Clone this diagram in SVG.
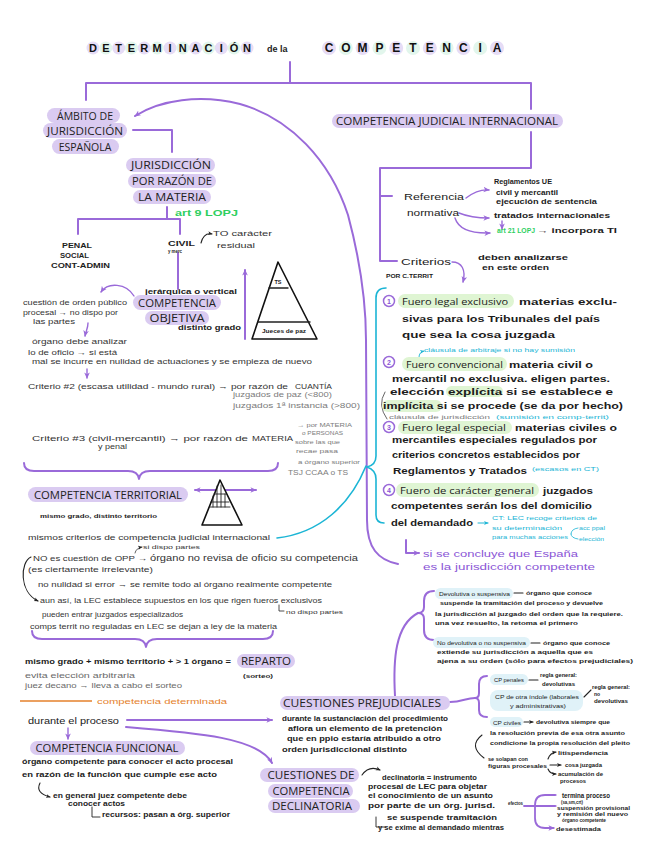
<svg xmlns="http://www.w3.org/2000/svg" width="646" height="848" viewBox="0 0 646 848">
<defs>
<style>
text{font-family:"Liberation Sans",Arial,sans-serif}
.t{font-size:7px;font-weight:700;fill:#1c1c1c}
.dg{fill:#333;font-weight:400}
.g{fill:#7b7b7b;font-weight:400}
.m{font-size:9.5px;fill:#222}
.h{font-family:"Open Sans","Liberation Sans",sans-serif;font-size:10.5px;fill:#222;text-anchor:middle}
.f{font-family:"Open Sans","Liberation Sans",sans-serif;font-size:9.5px;fill:#222}
.tt{font-size:11px;font-weight:700;fill:#111;text-anchor:middle}
.pill{fill:#dacbf1}
.gp{fill:#dff5d3}
.bp{fill:#e0f2f8}
.c1{fill:#e6dcf6}
.c2{fill:#e2f6ec}
.lp{fill:none;stroke:#9a6ad9;stroke-width:2;stroke-linecap:round;stroke-linejoin:round}
.lpt{fill:none;stroke:#9a6ad9;stroke-width:1.4;stroke-linecap:round;stroke-linejoin:round}
.lc{fill:none;stroke:#1bb5d5;stroke-width:1.6;stroke-linecap:round;stroke-linejoin:round}
.lk{fill:none;stroke:#222;stroke-width:1.1;stroke-linecap:round;stroke-linejoin:round}
.lg{fill:none;stroke:#555;stroke-width:0.9;stroke-linecap:round}
.lo{fill:none;stroke:#e5812b;stroke-width:1.4}
.cy{fill:#1bb5d5}
.pu{fill:#8a55d6}
.gr{fill:#2fcf5f}
.or{fill:#e5812b}
.num{fill:#fff;stroke:#9a6ad9;stroke-width:1.5}
.nt{font-size:7px;font-weight:700;fill:#8a55d6;text-anchor:middle}
.tri{fill:#fff;stroke:#111;stroke-width:1.6;stroke-linejoin:round}
</style>
<marker id="ap" viewBox="0 0 10 10" refX="8" refY="5" markerWidth="7" markerHeight="7" markerUnits="userSpaceOnUse" orient="auto-start-reverse"><path d="M0,1 L9,5 L0,9 L2.5,5 Z" fill="#9a6ad9"/></marker>
<marker id="ak" viewBox="0 0 10 10" refX="8" refY="5" markerWidth="5" markerHeight="5" markerUnits="userSpaceOnUse" orient="auto-start-reverse"><path d="M0,1 L9,5 L0,9 L2.5,5 Z" fill="#222"/></marker>
<marker id="ac" viewBox="0 0 10 10" refX="8" refY="5" markerWidth="5" markerHeight="5" markerUnits="userSpaceOnUse" orient="auto-start-reverse"><path d="M0,1 L9,5 L0,9 L2.5,5 Z" fill="#1bb5d5"/></marker>
<marker id="ag" viewBox="0 0 10 10" refX="8" refY="5" markerWidth="4" markerHeight="4" markerUnits="userSpaceOnUse" orient="auto-start-reverse"><path d="M0,1 L9,5 L0,9 L2.5,5 Z" fill="#777"/></marker>
</defs>
<rect width="646" height="848" fill="#fff"/>

<g id="title">
<g class="c1"><circle cx="93" cy="48" r="6.5"/><circle cx="118.7" cy="48" r="6.5"/><circle cx="144.3" cy="48" r="6.5"/><circle cx="170" cy="48" r="6.5"/><circle cx="195.6" cy="48" r="6.5"/><circle cx="221.3" cy="48" r="6.5"/><circle cx="247" cy="48" r="6.5"/><circle cx="329" cy="48" r="7"/><circle cx="362.6" cy="48" r="7"/><circle cx="396.2" cy="48" r="7"/><circle cx="429.8" cy="48" r="7"/><circle cx="463.4" cy="48" r="7"/><circle cx="497" cy="48" r="7"/></g>
<g class="c2"><circle cx="105.8" cy="48" r="6.5"/><circle cx="131.5" cy="48" r="6.5"/><circle cx="157.2" cy="48" r="6.5"/><circle cx="182.8" cy="48" r="6.5"/><circle cx="208.5" cy="48" r="6.5"/><circle cx="234.1" cy="48" r="6.5"/><circle cx="345.8" cy="48" r="7"/><circle cx="379.4" cy="48" r="7"/><circle cx="413" cy="48" r="7"/><circle cx="446.6" cy="48" r="7"/><circle cx="480.2" cy="48" r="7"/></g>
<text class="tt" x="93 105.8 118.7 131.5 144.3 157.2 170 182.8 195.6 208.5 221.3 234.1 247" y="52">DETERMINACIÓN</text>
<text class="t" x="267" y="52" style="font-size:9px">de  la</text>
<text class="tt" x="329 345.8 362.6 379.4 396.2 413 429.8 446.6 463.4 480.2 497" y="52" style="font-size:12px">COMPETENCIA</text>
</g>

<g id="connectors">
<path class="lp" d="M290 62 L290 83 M86 100 L86 83 L531 83 L531 109"/>
<path class="lp" d="M531 132 L531 168 L380 168 L380 261 L397 261 M380 196 L392 196"/>
<path class="lp" d="M133 130 L172 130 L172 152"/>
<path class="lp" d="M167 207 L167 219 M78 234 L78 219 L180 219 L180 234"/>
<path class="lp" d="M178 253 L178 289"/>
<path class="lp" d="M245 339 L245 270" marker-end="url(#ap)"/>
<path class="lpt" d="M134 296 C126 283 108 282 101 292" marker-end="url(#ap)"/>
<path class="lpt" d="M88 323 C88 328 86 331 85 336" marker-end="url(#ap)"/>
<path class="lpt" d="M87 369 L87 378" marker-end="url(#ap)"/>
<path class="lk" d="M201 243 C203 235 207 233 212 234" marker-end="url(#ak)"/>
<path class="lp" d="M135 116 C160 100 200 94 240 104 C290 118 330 160 348 215 C360 260 366 300 366 340 L367 520 C367 548 378 560 398 564" marker-start="url(#ap)"/>
<path class="lpt" d="M466 198 Q478 189 489 190" marker-end="url(#ap)"/>
<path class="lpt" d="M459 213 Q471 218 489 218" marker-end="url(#ap)"/>
<path class="lpt" d="M455 218 Q460 234 490 233" marker-end="url(#ap)"/>
<path class="lpt" d="M502 221 L502 229" marker-end="url(#ap)"/>
<path class="lpt" d="M452 262 C462 262 466 270 463 282" marker-end="url(#ap)"/>
<path class="lc" d="M386 288 Q376 288 376 298 L376 456 Q376 465 367 467 Q376 470 376 479 L376 515 Q376 523 384 523"/>
<path class="lc" d="M277 538 C320 533 350 505 366 466"/>
<path class="lc" d="M419 357 Q419 352 424 351" style="stroke-width:0.9" marker-end="url(#ac)"/>
<path class="lc" d="M478 523 L488 523" style="stroke-width:1" marker-end="url(#ac)"/>
<path class="lc" d="M571 534 Q571 529 578 528 M571 534 Q571 538 578 539" style="stroke-width:0.8"/>
<path class="lg" d="M385 392 Q377 405 387 419"/>
<path class="lp" d="M406 540 L406 553 L419 553" marker-end="url(#ap)"/>
<path class="lp" d="M24 463 Q24 471 34 471 L128 471 Q138 471 139 479 Q140 471 150 471 L268 471 Q278 471 278 463"/>
<path class="lp" d="M195 490 L256 490" marker-start="url(#ap)" marker-end="url(#ap)"/>
<path class="lk" d="M135 553 Q136 548 142 547" style="stroke-width:0.7" marker-end="url(#ak)"/>
<path class="lk" d="M31 557 C20 562 19 592 38 601" marker-end="url(#ak)"/>
<path class="lk" d="M279 605 L279 611 L284 611" style="stroke-width:0.8"/>
<path class="lp" d="M32 631 Q32 639 42 639 L135 639 Q145 639 146 647 Q147 639 157 639 L263 639 Q273 639 273 631"/>
<path class="lo" d="M20 701 L92 701"/>
<path class="lp" d="M127 720 L272 720" marker-end="url(#ap)"/>
<path class="lp" d="M126 727 C200 733 258 738 272 763" marker-end="url(#ap)"/>
<path class="lpt" d="M68 728 L68 739" marker-end="url(#ap)"/>
<path class="lk" d="M40 783 Q35 793 50 797" marker-end="url(#ak)"/>
<path class="lk" d="M92 807 L92 817 L100 817" style="stroke-width:0.9"/>
<path class="lk" d="M362 775 Q369 765 380 770" marker-end="url(#ak)"/>
<path class="lk" d="M376 817 L376 827 L385 827" style="stroke-width:0.9"/>
<path class="lp" d="M395 696 C393 660 395 625 418 613"/>
<path class="lp" d="M434 591 Q424 591 424 601 L424 607 Q424 613 418 613 Q424 613 424 619 L424 630 Q424 640 434 640"/>
<path class="lp" d="M450 702 C462 702 466 698 475 698"/>
<path class="lp" d="M487 676 Q479 676 479 684 L479 693 Q479 698 475 698 Q479 698 479 703 L479 710 Q479 717 487 717"/>
<path class="lk" d="M514 593 L523 593 M531 643 L540 643 M529 680 L538 680 M584 697 L591 690 M524 722 L533 722" marker-end="url(#ak)"/>
<path class="lk" d="M482 735 Q468 746 484 758"/>
<path class="lk" d="M548 759 Q550 753 556 752" marker-end="url(#ak)"/>
<path class="lk" d="M550 765 L561 765" marker-end="url(#ak)"/>
<path class="lk" d="M548 769 Q550 774 556 774" marker-end="url(#ak)"/>
<path class="lp" d="M524 806 L555 806 M555 795 L545 795 Q535 795 535 805 L535 818 Q535 828 545 828 L553 828" style="stroke-width:1.8"/>
<path class="lpt" d="M548 795 L556 795 M548 806 L556 806 M546 828 L554 828" marker-end="url(#ap)"/>
</g>

<g id="ambito">
<rect class="pill" x="47" y="108" width="73" height="15" rx="7.5"/>
<rect class="pill" x="43" y="123" width="84" height="15" rx="7.5"/>
<rect class="pill" x="52" y="139" width="67" height="15" rx="7.5"/>
<text class="h" x="85" y="119.5">ÁMBITO DE</text>
<text class="h" x="85" y="135" textLength="76" lengthAdjust="spacingAndGlyphs">JURISDICCIÓN</text>
<text class="h" x="85" y="151">ESPAÑOLA</text>
</g>

<g id="jurisdiccion-materia">
<rect class="pill" x="126" y="158" width="89" height="14" rx="7"/>
<rect class="pill" x="128" y="174" width="88" height="14" rx="7"/>
<rect class="pill" x="133" y="190" width="78" height="14" rx="7"/>
<text class="h" x="171" y="169" textLength="80" lengthAdjust="spacingAndGlyphs">JURISDICCIÓN</text>
<text class="h" x="172" y="185" textLength="80" lengthAdjust="spacingAndGlyphs">POR RAZÓN DE</text>
<text class="h" x="172" y="201" textLength="68" lengthAdjust="spacingAndGlyphs">LA MATERIA</text>
<text class="t gr" x="175" y="216" style="font-size:9px" textLength="63" lengthAdjust="spacingAndGlyphs">art 9 LOPJ</text>
</g>

<g id="ordenes">
<text class="t" x="62" y="248" style="font-size:6.3px" textLength="30" lengthAdjust="spacingAndGlyphs">PENAL</text>
<text class="t" x="60" y="258" style="font-size:6.3px" textLength="29" lengthAdjust="spacingAndGlyphs">SOCIAL</text>
<text class="t" x="51" y="268" style="font-size:6.3px" textLength="59" lengthAdjust="spacingAndGlyphs">CONT-ADMIN</text>
<text class="t" x="168" y="246" style="font-size:7.5px" textLength="27" lengthAdjust="spacingAndGlyphs">CIVIL</text>
<text class="t" x="168" y="253" style="font-size:4.5px" textLength="14" lengthAdjust="spacingAndGlyphs">y merc</text>
<text class="t dg" x="213" y="236" style="font-size:8px" textLength="59" lengthAdjust="spacingAndGlyphs">TO carácter</text>
<text class="t dg" x="217" y="248" style="font-size:8px" textLength="38" lengthAdjust="spacingAndGlyphs">residual</text>
</g>

<g id="piramide-objetiva">
<polygon class="tri" points="278,262 252,339 317,339"/>
<path class="lk" d="M269 288 L288 288 M258 322 L310 322" style="stroke-width:1.4"/>
<text class="t" x="278" y="284" style="font-size:5.5px" text-anchor="middle">TS</text>
<text class="t" x="284" y="333" style="font-size:5px" text-anchor="middle" textLength="44" lengthAdjust="spacingAndGlyphs">Jueces de paz</text>
</g>

<g id="competencia-objetiva">
<text class="t" x="145" y="294" textLength="92" lengthAdjust="spacingAndGlyphs">jerárquica o vertical</text>
<rect class="pill" x="133" y="295" width="88" height="15" rx="7.5"/>
<rect class="pill" x="145" y="311" width="64" height="14" rx="7"/>
<text class="h" x="177" y="307" textLength="78" lengthAdjust="spacingAndGlyphs">COMPETENCIA</text>
<text class="h" x="177" y="322" textLength="55" lengthAdjust="spacingAndGlyphs">OBJETIVA</text>
<text class="t" x="178" y="330" style="font-size:6.5px" textLength="63" lengthAdjust="spacingAndGlyphs">distinto grado</text>
</g>

<g id="orden-publico">
<text class="t dg" x="23" y="305" textLength="104" lengthAdjust="spacingAndGlyphs">cuestión de orden público</text>
<text class="t dg" x="23" y="315" textLength="95" lengthAdjust="spacingAndGlyphs">procesal → no dispo por</text>
<text class="t dg" x="33" y="324" textLength="42" lengthAdjust="spacingAndGlyphs">las partes</text>
<text class="t dg" x="32" y="344" textLength="95" lengthAdjust="spacingAndGlyphs">órgano debe analizar</text>
<text class="t dg" x="28" y="355" textLength="89" lengthAdjust="spacingAndGlyphs">lo de oficio → si está</text>
<text class="t dg" x="32" y="364" textLength="280" lengthAdjust="spacingAndGlyphs">mal se incurre en nulidad de actuaciones y se empieza de nuevo</text>
</g>

<g id="criterios-objetiva">
<text class="t dg" x="28" y="389" style="font-size:7.5px" textLength="260" lengthAdjust="spacingAndGlyphs">Criterio #2 (escasa utilidad - mundo rural) → por razón de</text>
<text class="t dg" x="295" y="389" style="font-size:8px" textLength="37" lengthAdjust="spacingAndGlyphs">CUANTÍA</text>
<text class="t g" x="233" y="397" style="font-size:7.5px" textLength="99" lengthAdjust="spacingAndGlyphs">juzgados de paz (&lt;800)</text>
<text class="t g" x="233" y="408" style="font-size:7.5px" textLength="127" lengthAdjust="spacingAndGlyphs">juzgados 1ª instancia (&gt;800)</text>
<text class="t dg" x="32" y="441" style="font-size:7.5px" textLength="216" lengthAdjust="spacingAndGlyphs">Criterio #3 (civil-mercantil) → por razón de</text>
<text class="t dg" x="252" y="441" style="font-size:8px" textLength="41" lengthAdjust="spacingAndGlyphs">MATERIA</text>
<text class="t dg" x="98" y="449" style="font-size:6.5px" textLength="29" lengthAdjust="spacingAndGlyphs">y penal</text>
<text class="t g" x="297" y="427" style="font-size:5.5px" textLength="55" lengthAdjust="spacingAndGlyphs">→ por MATERIA</text>
<text class="t g" x="302" y="435" style="font-size:5.5px" textLength="41" lengthAdjust="spacingAndGlyphs">o PERSONAS</text>
<text class="t g" x="295" y="444" style="font-size:5.5px" textLength="45" lengthAdjust="spacingAndGlyphs">sobre las que</text>
<text class="t g" x="296" y="453" style="font-size:5.5px" textLength="42" lengthAdjust="spacingAndGlyphs">recae pasa</text>
<text class="t g" x="298" y="464" style="font-size:5.5px" textLength="62" lengthAdjust="spacingAndGlyphs">a órgano superior</text>
<text class="t g" x="288" y="475" style="font-size:7px" textLength="60" lengthAdjust="spacingAndGlyphs">TSJ CCAA o TS</text>
</g>

<g id="competencia-territorial">
<rect class="pill" x="28" y="487" width="160" height="15" rx="7.5"/>
<text class="h" x="108" y="499" textLength="148" lengthAdjust="spacingAndGlyphs">COMPETENCIA TERRITORIAL</text>
<polygon class="tri" points="220,480 202,525 242,525"/>
<path class="lk" d="M214 494 L226 494 M211 502 L229 502 M210 507 L230 507 M213 496 L213 507 M217 486 L217 507 M221 485 L221 507 M225 494 L225 507" style="stroke-width:0.9"/>
<text class="t" x="40" y="518" style="font-size:6px" textLength="117" lengthAdjust="spacingAndGlyphs">mismo grado, distinto territorio</text>
<text class="t dg" x="28" y="540" style="font-size:7.5px" textLength="242" lengthAdjust="spacingAndGlyphs">mismos criterios de competencia judicial internacional</text>
<text class="t dg" x="143" y="549" style="font-size:5.5px" textLength="57" lengthAdjust="spacingAndGlyphs">si dispo partes</text>
<text class="t dg" x="33" y="561" style="font-size:8px" textLength="114" lengthAdjust="spacingAndGlyphs">NO es cuestión de OPP →</text>
<text class="t dg" x="150" y="561" style="font-size:9px" textLength="208" lengthAdjust="spacingAndGlyphs">órgano no revisa de oficio su competencia</text>
<text class="t dg" x="28" y="572" style="font-size:7px" textLength="125" lengthAdjust="spacingAndGlyphs">(es ciertamente irrelevante)</text>
<text class="t dg" x="38" y="587" style="font-size:7.5px" textLength="294" lengthAdjust="spacingAndGlyphs">no nulidad si error → se remite todo al órgano realmente competente</text>
<text class="t dg" x="40" y="603" style="font-size:7px" textLength="282" lengthAdjust="spacingAndGlyphs">aun así, la LEC establece supuestos en los que rigen fueros exclusivos</text>
<text class="t dg" x="286" y="614" style="font-size:5.5px" textLength="57" lengthAdjust="spacingAndGlyphs">no dispo partes</text>
<text class="t dg" x="42" y="617" style="font-size:7px" textLength="141" lengthAdjust="spacingAndGlyphs">pueden entrar juzgados especializados</text>
<text class="t dg" x="30" y="629" style="font-size:7px" textLength="247" lengthAdjust="spacingAndGlyphs">comps territ no reguladas en LEC se dejan a ley de la materia</text>
</g>

<g id="reparto">
<text class="t" x="25" y="664" style="font-size:7.5px" textLength="206" lengthAdjust="spacingAndGlyphs">mismo grado + mismo territorio + &gt; 1 órgano =</text>
<rect class="pill" x="237" y="654" width="58" height="14" rx="7"/>
<text class="h" x="266" y="665" textLength="50" lengthAdjust="spacingAndGlyphs">REPARTO</text>
<text class="t" x="243" y="678" style="font-size:6px" textLength="30" lengthAdjust="spacingAndGlyphs">(sorteo)</text>
<text class="t g" x="25" y="678" style="font-size:7.5px;fill:#6a6a6a" textLength="110" lengthAdjust="spacingAndGlyphs">evita elección arbitraria</text>
<text class="t g" x="25" y="688" style="font-size:7.5px;fill:#6a6a6a" textLength="157" lengthAdjust="spacingAndGlyphs">juez decano → lleva a cabo el sorteo</text>
<text class="t or" x="97" y="704" style="font-size:8px;font-weight:400" textLength="130" lengthAdjust="spacingAndGlyphs">competencia determinada</text>
</g>

<g id="competencia-funcional">
<text class="t" x="28" y="724" style="font-size:9px;font-weight:400" textLength="91" lengthAdjust="spacingAndGlyphs">durante el proceso</text>
<rect class="pill" x="30" y="741" width="155" height="14" rx="7"/>
<text class="h" x="107" y="752" textLength="143" lengthAdjust="spacingAndGlyphs">COMPETENCIA FUNCIONAL</text>
<text class="t" x="22" y="764" style="font-size:8px" textLength="211" lengthAdjust="spacingAndGlyphs">órgano competente para conocer el acto procesal</text>
<text class="t" x="22" y="777" style="font-size:8px" textLength="195" lengthAdjust="spacingAndGlyphs">en razón de la función que cumple ese acto</text>
<text class="t" x="53" y="798" textLength="134" lengthAdjust="spacingAndGlyphs">en general juez competente debe</text>
<text class="t" x="68" y="806" textLength="57" lengthAdjust="spacingAndGlyphs">conocer actos</text>
<text class="t" x="102" y="817" textLength="128" lengthAdjust="spacingAndGlyphs">recursos: pasan a órg. superior</text>
</g>

<g id="competencia-judicial-internacional">
<rect class="pill" x="332" y="114" width="231" height="14" rx="7"/>
<text class="h" x="447" y="125" style="font-size:10px" textLength="222" lengthAdjust="spacingAndGlyphs">COMPETENCIA JUDICIAL INTERNACIONAL</text>
</g>

<g id="referencia-normativa">
<text class="m" x="404" y="200" textLength="60" lengthAdjust="spacingAndGlyphs">Referencia</text>
<text class="m" x="407" y="216" textLength="52" lengthAdjust="spacingAndGlyphs">normativa</text>
<text class="t" x="494" y="184" style="font-size:6.5px" textLength="58" lengthAdjust="spacingAndGlyphs">Reglamentos UE</text>
<text class="t" x="496" y="195" style="font-size:6.5px" textLength="62" lengthAdjust="spacingAndGlyphs">civil y mercantil</text>
<text class="t" x="496" y="204" style="font-size:6.5px" textLength="101" lengthAdjust="spacingAndGlyphs">ejecución de sentencia</text>
<text class="t" x="494" y="218" style="font-size:6.5px" textLength="116" lengthAdjust="spacingAndGlyphs">tratados internacionales</text>
<text class="t gr" x="497" y="233" style="font-size:6.5px" textLength="38" lengthAdjust="spacingAndGlyphs">art 21 LOPJ</text>
<text class="t" x="537" y="233" style="font-size:6.5px" textLength="80" lengthAdjust="spacingAndGlyphs">→ incorpora TI</text>
</g>

<g id="criterios">
<text class="m" x="401" y="265" textLength="50" lengthAdjust="spacingAndGlyphs">Criterios</text>
<text class="t" x="386" y="278" style="font-size:6px" textLength="47" lengthAdjust="spacingAndGlyphs">POR C.TERRIT</text>
<text class="t" x="478" y="260" style="font-size:7.5px" textLength="90" lengthAdjust="spacingAndGlyphs">deben analizarse</text>
<text class="t" x="482" y="270" style="font-size:7.5px" textLength="67" lengthAdjust="spacingAndGlyphs">en este orden</text>
</g>

<g id="fuero-1">
<circle class="num" cx="389" cy="301" r="5.5"/>
<text class="nt" x="389" y="303.5">1</text>
<rect class="gp" x="398" y="294" width="116" height="14" rx="7"/>
<text class="f" x="402" y="305" textLength="106" lengthAdjust="spacingAndGlyphs">Fuero legal exclusivo</text>
<text class="t" x="519" y="305" style="font-size:8.5px" textLength="98" lengthAdjust="spacingAndGlyphs">materias exclu-</text>
<text class="t" x="402" y="322" style="font-size:8.5px" textLength="198" lengthAdjust="spacingAndGlyphs">sivas para los Tribunales del país</text>
<text class="t" x="402" y="338" style="font-size:8.5px" textLength="153" lengthAdjust="spacingAndGlyphs">que sea la cosa juzgada</text>
</g>

<g id="fuero-2">
<text class="t cy" x="424" y="352" style="font-size:5.5px;font-weight:400" textLength="151" lengthAdjust="spacingAndGlyphs">cláusula de arbitraje si no hay sumisión</text>
<circle class="num" cx="389" cy="362" r="5.5"/>
<text class="nt" x="389" y="364.5">2</text>
<rect class="gp" x="402" y="357" width="105" height="14" rx="7"/>
<text class="f" x="406" y="368" textLength="97" lengthAdjust="spacingAndGlyphs">Fuero convencional</text>
<text class="t" x="509" y="368" style="font-size:8.5px" textLength="84" lengthAdjust="spacingAndGlyphs">materia civil o</text>
<text class="t" x="392" y="382" style="font-size:8.5px" textLength="218" lengthAdjust="spacingAndGlyphs">mercantil no exclusiva. eligen partes.</text>
<rect class="gp" x="446" y="386" width="57" height="11" rx="5.5"/>
<rect class="gp" x="382" y="400" width="60" height="12" rx="6"/>
<text class="t" x="390" y="395" style="font-size:8.5px" textLength="223" lengthAdjust="spacingAndGlyphs">elección explícita si se establece e</text>
<text class="t" x="383" y="409" style="font-size:8.5px" textLength="240" lengthAdjust="spacingAndGlyphs">implícita si se procede (se da por hecho)</text>
<text class="t g" x="389" y="419" style="font-size:6px" textLength="101" lengthAdjust="spacingAndGlyphs">cláusula de jurisdicción</text>
<text class="t cy" x="496" y="419" style="font-size:6px;font-weight:400" textLength="113" lengthAdjust="spacingAndGlyphs">(sumisión en comp-territ)</text>
</g>

<g id="fuero-3">
<circle class="num" cx="389" cy="427" r="5.5"/>
<text class="nt" x="389" y="429.5">3</text>
<rect class="gp" x="398" y="421" width="114" height="13" rx="6.5"/>
<text class="f" x="402" y="431" textLength="104" lengthAdjust="spacingAndGlyphs">Fuero legal especial</text>
<text class="t" x="515" y="431" style="font-size:8.5px" textLength="102" lengthAdjust="spacingAndGlyphs">materias civiles o</text>
<text class="t" x="392" y="443" style="font-size:8.5px" textLength="205" lengthAdjust="spacingAndGlyphs">mercantiles especiales regulados por</text>
<text class="t" x="392" y="458" style="font-size:8.5px" textLength="188" lengthAdjust="spacingAndGlyphs">criterios concretos establecidos por</text>
<text class="t" x="393" y="474" style="font-size:8.5px" textLength="134" lengthAdjust="spacingAndGlyphs">Reglamentos y Tratados</text>
<text class="t cy" x="532" y="471" style="font-size:5.5px;font-weight:400" textLength="67" lengthAdjust="spacingAndGlyphs">(escasos en CT)</text>
</g>

<g id="fuero-4">
<circle class="num" cx="389" cy="490" r="5.5"/>
<text class="nt" x="389" y="492.5">4</text>
<rect class="gp" x="396" y="483" width="143" height="14" rx="7"/>
<text class="f" x="400" y="494" textLength="134" lengthAdjust="spacingAndGlyphs">Fuero de carácter general</text>
<text class="t" x="543" y="494" style="font-size:8.5px" textLength="50" lengthAdjust="spacingAndGlyphs">juzgados</text>
<text class="t" x="391" y="509" style="font-size:8.5px" textLength="201" lengthAdjust="spacingAndGlyphs">competentes serán los del domicilio</text>
<text class="t" x="391" y="526" style="font-size:8.5px" textLength="82" lengthAdjust="spacingAndGlyphs">del demandado</text>
<text class="t cy" x="492" y="520" style="font-size:5.5px;font-weight:400" textLength="105" lengthAdjust="spacingAndGlyphs">CT: LEC recoge criterios de</text>
<text class="t cy" x="492" y="530" style="font-size:5.5px;font-weight:400" textLength="70" lengthAdjust="spacingAndGlyphs">su determinación</text>
<text class="t cy" x="492" y="539" style="font-size:5px;font-weight:400" textLength="76" lengthAdjust="spacingAndGlyphs">para muchas acciones</text>
<text class="t cy" x="579" y="530" style="font-size:5px;font-weight:400" textLength="26" lengthAdjust="spacingAndGlyphs">acc ppal</text>
<text class="t cy" x="579" y="541" style="font-size:5px;font-weight:400" textLength="25" lengthAdjust="spacingAndGlyphs">elección</text>
</g>

<g id="conclusion">
<text class="t pu" x="423" y="557" style="font-size:9px;font-weight:400" textLength="155" lengthAdjust="spacingAndGlyphs">si se concluye que España</text>
<text class="t pu" x="423" y="570" style="font-size:9px;font-weight:400" textLength="172" lengthAdjust="spacingAndGlyphs">es la jurisdicción competente</text>
</g>

<g id="devolutiva">
<rect class="bp" x="435" y="588" width="78" height="11" rx="5.5"/>
<text class="t" x="439" y="596" style="font-size:6px;font-weight:400" textLength="71" lengthAdjust="spacingAndGlyphs">Devolutiva o suspensiva</text>
<text class="t" x="526" y="595" style="font-size:6px" textLength="66" lengthAdjust="spacingAndGlyphs">órgano que conoce</text>
<text class="t" x="440" y="605" style="font-size:6px" textLength="163" lengthAdjust="spacingAndGlyphs">suspende la tramitación del proceso y devuelve</text>
<text class="t" x="435" y="616" style="font-size:6px" textLength="188" lengthAdjust="spacingAndGlyphs">la jurisdicción al juzgado del orden que la requiere.</text>
<text class="t" x="435" y="625" style="font-size:6px" textLength="143" lengthAdjust="spacingAndGlyphs">una vez resuelto, la retoma el primero</text>
<rect class="bp" x="433" y="637" width="97" height="11" rx="5.5"/>
<text class="t" x="437" y="645" style="font-size:6px;font-weight:400" textLength="89" lengthAdjust="spacingAndGlyphs">No devolutiva o no suspensiva</text>
<text class="t" x="543" y="645" style="font-size:6px" textLength="67" lengthAdjust="spacingAndGlyphs">órgano que conoce</text>
<text class="t" x="437" y="654" style="font-size:6px" textLength="156" lengthAdjust="spacingAndGlyphs">extiende su jurisdicción a aquella que es</text>
<text class="t" x="437" y="663" style="font-size:6px" textLength="196" lengthAdjust="spacingAndGlyphs">ajena a su orden (sólo para efectos prejudiciales)</text>
</g>

<g id="cuestiones-prejudiciales">
<rect class="pill" x="280" y="696" width="170" height="14" rx="7"/>
<text class="h" x="362" y="707" style="font-size:11px" textLength="158" lengthAdjust="spacingAndGlyphs">CUESTIONES PREJUDICIALES</text>
<text class="t" x="282" y="721" textLength="166" lengthAdjust="spacingAndGlyphs">durante la sustanciación del procedimiento</text>
<text class="t" x="288" y="731" textLength="154" lengthAdjust="spacingAndGlyphs">aflora un elemento de la pretención</text>
<text class="t" x="287" y="741" textLength="154" lengthAdjust="spacingAndGlyphs">que en ppio estaría atribuido a otro</text>
<text class="t" x="282" y="752" textLength="125" lengthAdjust="spacingAndGlyphs">orden jurisdiccional distinto</text>
</g>

<g id="tipos-cp">
<rect class="bp" x="490" y="674" width="38" height="11" rx="5.5"/>
<text class="t" x="494" y="682" style="font-size:6px;font-weight:400" textLength="30" lengthAdjust="spacingAndGlyphs">CP penales</text>
<text class="t" x="540" y="677" style="font-size:5px" textLength="37" lengthAdjust="spacingAndGlyphs">regla general:</text>
<text class="t" x="542" y="686" style="font-size:5px" textLength="33" lengthAdjust="spacingAndGlyphs">devolutivas</text>
<rect class="bp" x="490" y="690" width="93" height="21" rx="8"/>
<text class="t" x="495" y="699" style="font-size:6px;font-weight:400" textLength="84" lengthAdjust="spacingAndGlyphs">CP de otra índole (laborales</text>
<text class="t" x="510" y="708" style="font-size:6px;font-weight:400" textLength="56" lengthAdjust="spacingAndGlyphs">y administrativas)</text>
<text class="t" x="592" y="689" style="font-size:5px" textLength="38" lengthAdjust="spacingAndGlyphs">regla general:</text>
<text class="t" x="594" y="696" style="font-size:5px">no</text>
<text class="t" x="594" y="703" style="font-size:5px" textLength="34" lengthAdjust="spacingAndGlyphs">devolutivas</text>
<rect class="bp" x="490" y="717" width="33" height="10" rx="5"/>
<text class="t" x="493" y="724.5" style="font-size:6px;font-weight:400" textLength="28" lengthAdjust="spacingAndGlyphs">CP civiles</text>
<text class="t" x="536" y="724" style="font-size:6px" textLength="74" lengthAdjust="spacingAndGlyphs">devolutiva siempre que</text>
<text class="t" x="490" y="735" style="font-size:6px" textLength="135" lengthAdjust="spacingAndGlyphs">la resolución previa de esa otra asunto</text>
<text class="t" x="490" y="745" style="font-size:6px" textLength="140" lengthAdjust="spacingAndGlyphs">condicione la propia resolución del pleito</text>
<text class="t" x="488" y="761" style="font-size:5.5px" textLength="40" lengthAdjust="spacingAndGlyphs">se solapan con</text>
<text class="t" x="488" y="768" style="font-size:5.5px" textLength="59" lengthAdjust="spacingAndGlyphs">figuras procesales</text>
<text class="t" x="558" y="755" style="font-size:6px" textLength="50" lengthAdjust="spacingAndGlyphs">litispendencia</text>
<text class="t" x="565" y="767" style="font-size:6px" textLength="37" lengthAdjust="spacingAndGlyphs">cosa juzgada</text>
<text class="t" x="558" y="776" style="font-size:5.5px" textLength="45" lengthAdjust="spacingAndGlyphs">acumulación de</text>
<text class="t" x="560" y="783" style="font-size:5.5px" textLength="26" lengthAdjust="spacingAndGlyphs">procesos</text>
</g>

<g id="cuestiones-competencia">
<rect class="pill" x="260" y="768" width="99" height="14" rx="7"/>
<rect class="pill" x="268" y="784" width="85" height="14" rx="7"/>
<rect class="pill" x="268" y="799" width="92" height="14" rx="7"/>
<text class="h" x="311" y="779" textLength="87" lengthAdjust="spacingAndGlyphs">CUESTIONES DE</text>
<text class="h" x="311" y="795" textLength="77" lengthAdjust="spacingAndGlyphs">COMPETENCIA</text>
<text class="h" x="312" y="810" textLength="80" lengthAdjust="spacingAndGlyphs">DECLINATORIA</text>
<text class="t" x="382" y="780" style="font-size:7px" textLength="95" lengthAdjust="spacingAndGlyphs">declinatoria = instrumento</text>
<text class="t" x="368" y="789" style="font-size:7px" textLength="119" lengthAdjust="spacingAndGlyphs">procesal de LEC para objetar</text>
<text class="t" x="368" y="798" style="font-size:7px" textLength="125" lengthAdjust="spacingAndGlyphs">el conocimiento de un asunto</text>
<text class="t" x="368" y="808" style="font-size:7px" textLength="127" lengthAdjust="spacingAndGlyphs">por parte de un órg. jurisd.</text>
<text class="t" x="387" y="820" style="font-size:7px" textLength="110" lengthAdjust="spacingAndGlyphs">se suspende tramitación</text>
<text class="t" x="378" y="830" style="font-size:7px" textLength="126" lengthAdjust="spacingAndGlyphs">y se exime al demandado mientras</text>
</g>

<g id="efectos">
<text class="t" x="508" y="805" style="font-size:5px" textLength="15" lengthAdjust="spacingAndGlyphs">efectos</text>
<text class="t" x="562" y="798" style="font-size:7.5px" textLength="48" lengthAdjust="spacingAndGlyphs">termina proceso</text>
<text class="t" x="561" y="804" style="font-size:4.5px" textLength="22" lengthAdjust="spacingAndGlyphs">(sa,sm,crt)</text>
<text class="t" x="557" y="810" style="font-size:5.5px" textLength="73" lengthAdjust="spacingAndGlyphs">suspensión provisional</text>
<text class="t" x="557" y="816" style="font-size:5.5px" textLength="71" lengthAdjust="spacingAndGlyphs">y remisión del nuevo</text>
<text class="t" x="562" y="822" style="font-size:5.5px" textLength="44" lengthAdjust="spacingAndGlyphs">órgano competente</text>
<text class="t" x="556" y="831" style="font-size:6px" textLength="45" lengthAdjust="spacingAndGlyphs">desestimada</text>
</g>
</svg>
